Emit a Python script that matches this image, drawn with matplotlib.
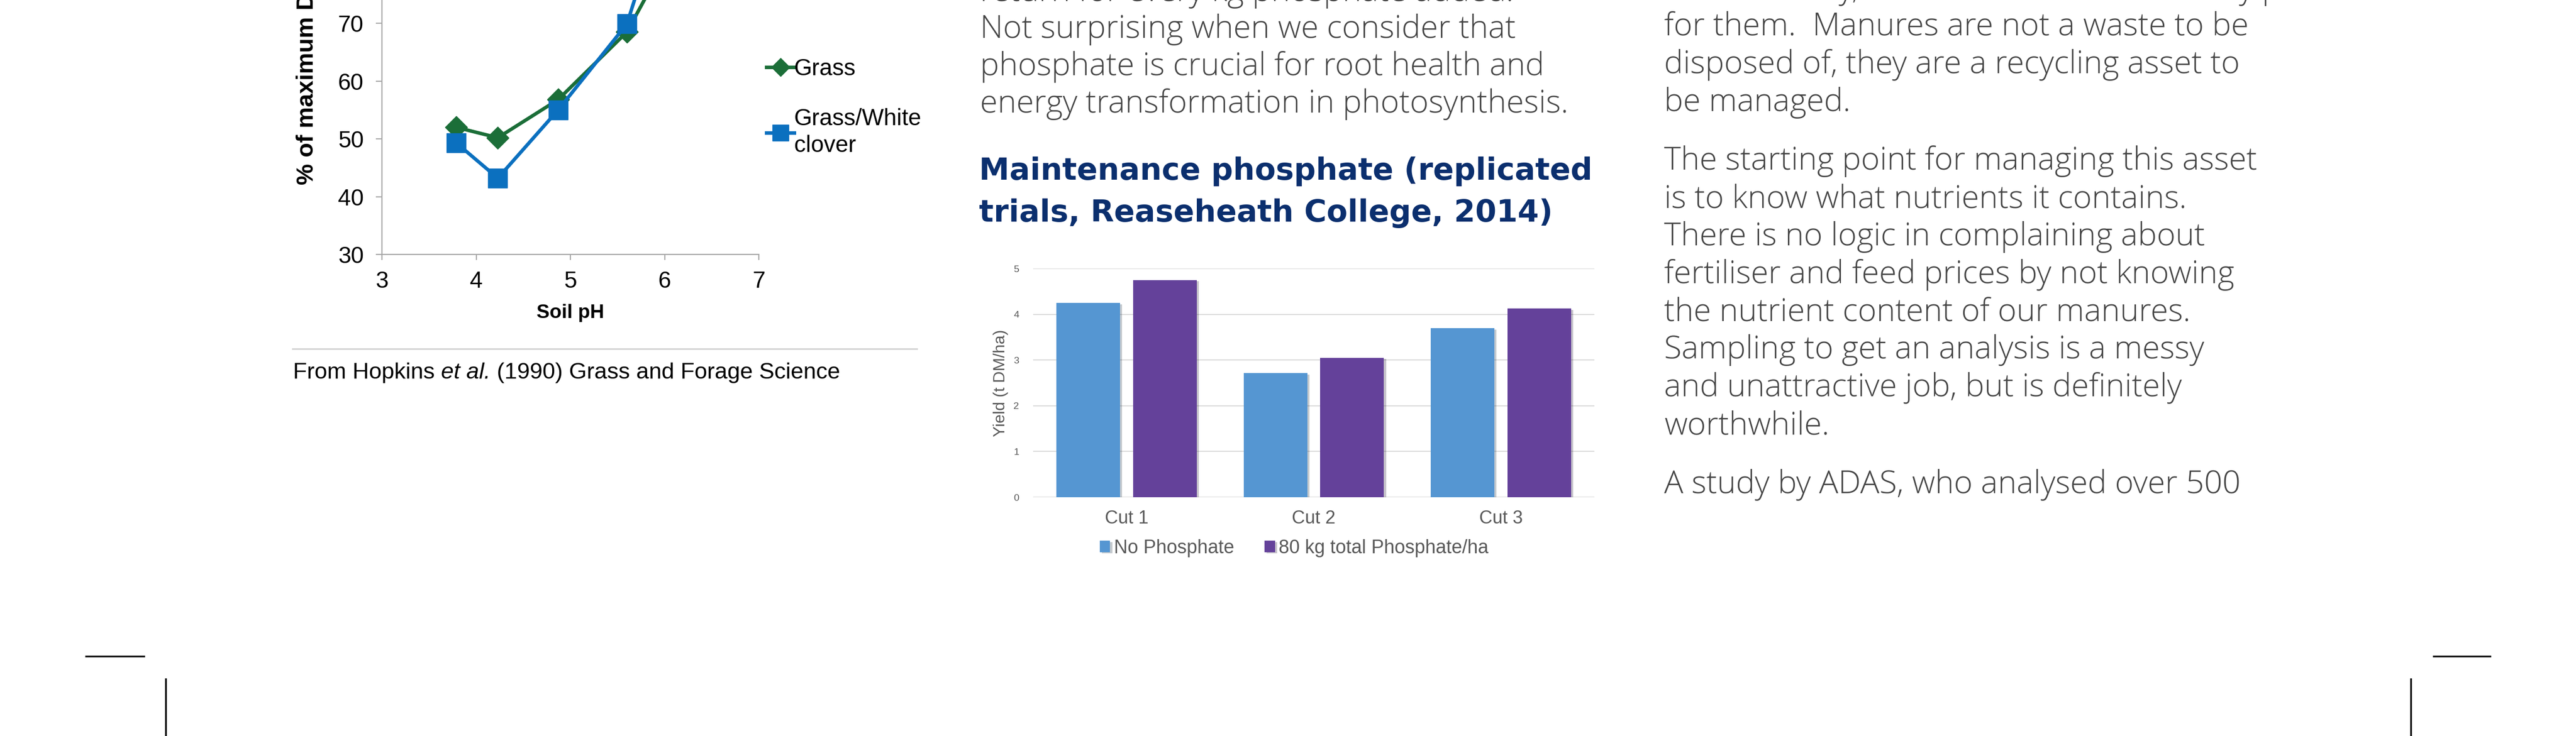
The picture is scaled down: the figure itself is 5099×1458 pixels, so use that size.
import matplotlib
matplotlib.use("Agg")
import matplotlib.pyplot as plt
import matplotlib.patheffects as pe
from matplotlib.lines import Line2D
import numpy as np

W, H = 5099, 1458

# ---- data: soil pH chart (Hopkins et al. 1990)
ph_grass = [3.79, 4.23, 4.87, 5.60, 6.05, 6.60]
dm_grass = [52.0, 50.2, 56.8, 68.5, 82.0, 97.0]
ph_clover = [3.79, 4.23, 4.87, 5.60, 6.05, 6.60]
dm_clover = [49.3, 43.2, 55.0, 69.9, 93.0, 99.0]
series_names = ["Grass", "Grass/White\nclover"]

# ---- data: maintenance phosphate bar chart
cuts = ["Cut 1", "Cut 2", "Cut 3"]
no_p = [4.25, 2.71, 3.70]
with_p = [4.75, 3.05, 4.13]
bar_names = ["No Phosphate", "80 kg total Phosphate/ha"]

# ---- page text
mid_lines = ["return for every kg phosphate added.",
             "Not surprising when we consider that",
             "phosphate is crucial for root health and",
             "energy transformation in photosynthesis."]
heading = ["Maintenance phosphate (replicated",
           "trials, Reaseheath College, 2014)"]
right_lines = ["worth money, and the farmer has already paid",
               "for them.  Manures are not a waste to be",
               "disposed of, they are a recycling asset to",
               "be managed.",
               "The starting point for managing this asset",
               "is to know what nutrients it contains.",
               "There is no logic in complaining about",
               "fertiliser and feed prices by not knowing",
               "the nutrient content of our manures.",
               "Sampling to get an analysis is a messy",
               "and unattractive job, but is definitely",
               "worthwhile.",
               "A study by ADAS, who analysed over 500"]

GREEN = "#1b6e38"
BLUE = "#0b70bf"
BAR_BLUE = "#5596d2"
BAR_PURPLE = "#64419a"
TEXT_GREY = "#454545"
NAVY = "#0b2f6e"
AXIS_GREY = "#a6a6a6"
BODY_FONT = ["Open Sans", "Lato", "DejaVu Sans"]
BODY_SIZE = 45.5

plt.rcParams["font.family"] = ["Liberation Sans", "DejaVu Sans"]

fig = plt.figure(figsize=(W / 100, H / 100), dpi=100)
fig.patch.set_facecolor("white")


def px(x, y):
    # pixel position (from top-left) -> figure fraction
    return x / W, 1 - y / H


# ================= left line chart =================
x0, y0 = px(756, 504)
ax1 = fig.add_axes([x0, y0, (1502 - 756) / W, 0.5494])
ax1.plot(ph_grass, dm_grass, color=GREEN, lw=5, marker="D", ms=22,
         label=series_names[0], clip_on=False, zorder=3)
ax1.plot(ph_clover, dm_clover, color=BLUE, lw=5, marker="s", ms=27,
         label=series_names[1], clip_on=False, zorder=4)
ax1.set_xlim(3, 7)
ax1.set_ylim(30, 100)
ax1.set_xticks(range(3, 8))
ax1.set_yticks(range(30, 101, 10))
for s in ["top", "right"]:
    ax1.spines[s].set_visible(False)
for s in ["left", "bottom"]:
    ax1.spines[s].set_color(AXIS_GREY)
    ax1.spines[s].set_linewidth(1.6)
ax1.tick_params(axis="y", length=9, width=1.6, color=AXIS_GREY, pad=17,
                labelsize=33)
ax1.tick_params(axis="x", length=8, width=1.6, color=AXIS_GREY, pad=15,
                labelsize=33)
ax1.text(0.5, -0.145, "Soil pH", transform=ax1.transAxes, ha="center",
         va="center", fontsize=28, fontweight="bold")
ax1.text(-0.198, 0.51, "% of maximum DM yield", transform=ax1.transAxes,
         rotation=90, ha="center", va="center", fontsize=34,
         fontweight="bold")
leg1 = fig.legend(loc="upper left", bbox_to_anchor=px(1476, 74),
                  frameon=False, fontsize=33, handlelength=1.2,
                  handletextpad=0.0, labelspacing=1.2, markerscale=0.85)
for t in leg1.get_texts():
    t.set_linespacing(1.25)

# separator + source
fig.add_artist(Line2D([579 / W, 1815 / W], [1 - 691 / H] * 2,
                      color="#cfcfcf", lw=2))
renderer = fig.canvas.get_renderer()
cx, cy = px(580, 750)
parts = [("From Hopkins ", "normal"), ("et al.", "italic"),
         (" (1990) Grass and Forage Science", "normal")]
for txt, sty in parts:
    t = fig.text(cx, cy, txt, fontsize=32.5, style=sty, va="baseline")
    bb = t.get_window_extent(renderer)
    cx += bb.width / W

# ================= middle column text =================
for i, line in enumerate(mid_lines):
    fig.text(*px(1940, 2 + 73.5 * i), line, fontsize=BODY_SIZE,
             color=TEXT_GREY, family=BODY_FONT, fontweight="light",
             va="baseline")
for i, line in enumerate(heading):
    fig.text(*px(1938, 356 + 83 * i), line, fontsize=43.5, color=NAVY,
             family=["DejaVu Sans"], fontweight="bold", va="baseline")

# ================= bar chart =================
bx, by = px(2045, 985)
ax2 = fig.add_axes([bx, by, (3156 - 2045) / W, (985 - 532) / H])
xi = np.arange(len(cuts))
shadow = [pe.SimplePatchShadow(offset=(3, -2), alpha=0.25), pe.Normal()]
b1 = ax2.bar(xi - 0.205, no_p, 0.34, color=BAR_BLUE, label=bar_names[0],
             zorder=3)
b2 = ax2.bar(xi + 0.205, with_p, 0.34, color=BAR_PURPLE,
             label=bar_names[1], zorder=3)
for r in list(b1) + list(b2):
    r.set_path_effects(shadow)
ax2.set_xlim(-0.5, 2.5)
ax2.set_ylim(0, 5)
ax2.set_yticks(range(0, 6))
ax2.set_xticks(xi)
ax2.set_xticklabels(cuts)
ax2.grid(axis="y", color="#d9d9d9", lw=1.5, zorder=0)
for s in ax2.spines.values():
    s.set_visible(False)
ax2.tick_params(axis="y", length=0, pad=20, labelsize=14,
                labelcolor="#595959")
ax2.tick_params(axis="x", length=0, pad=18, labelsize=26,
                labelcolor="#595959")
ax2.text(-0.058, 0.5, "Yield (t DM/ha)", transform=ax2.transAxes,
         rotation=90, ha="center", va="center", fontsize=23,
         color="#595959")
ax2.legend(loc="center", bbox_to_anchor=(0.465, -0.222), ncol=2,
           frameon=False, fontsize=27, handlelength=0.55,
           handleheight=0.55, handletextpad=0.2, columnspacing=1.6,
           labelcolor="#595959")

# ================= right column text =================
rb = [-3, 70, 145, 220, 336, 411, 486, 561, 636, 710, 785, 860, 977]
for line, yb in zip(right_lines, rb):
    fig.text(*px(3294, yb), line, fontsize=BODY_SIZE, color=TEXT_GREY,
             family=BODY_FONT, fontweight="light", va="baseline")

# ================= crop marks =================
for xs, ys in [([170, 285], [1300, 1300]), ([328, 328], [1345, 1458]),
               ([4817, 4929], [1300, 1300]), ([4772, 4772], [1345, 1458])]:
    fig.add_artist(Line2D([x / W for x in xs], [1 - y / H for y in ys],
                          color="black", lw=2.5))

fig.savefig("out.png", dpi=100, facecolor="white")
